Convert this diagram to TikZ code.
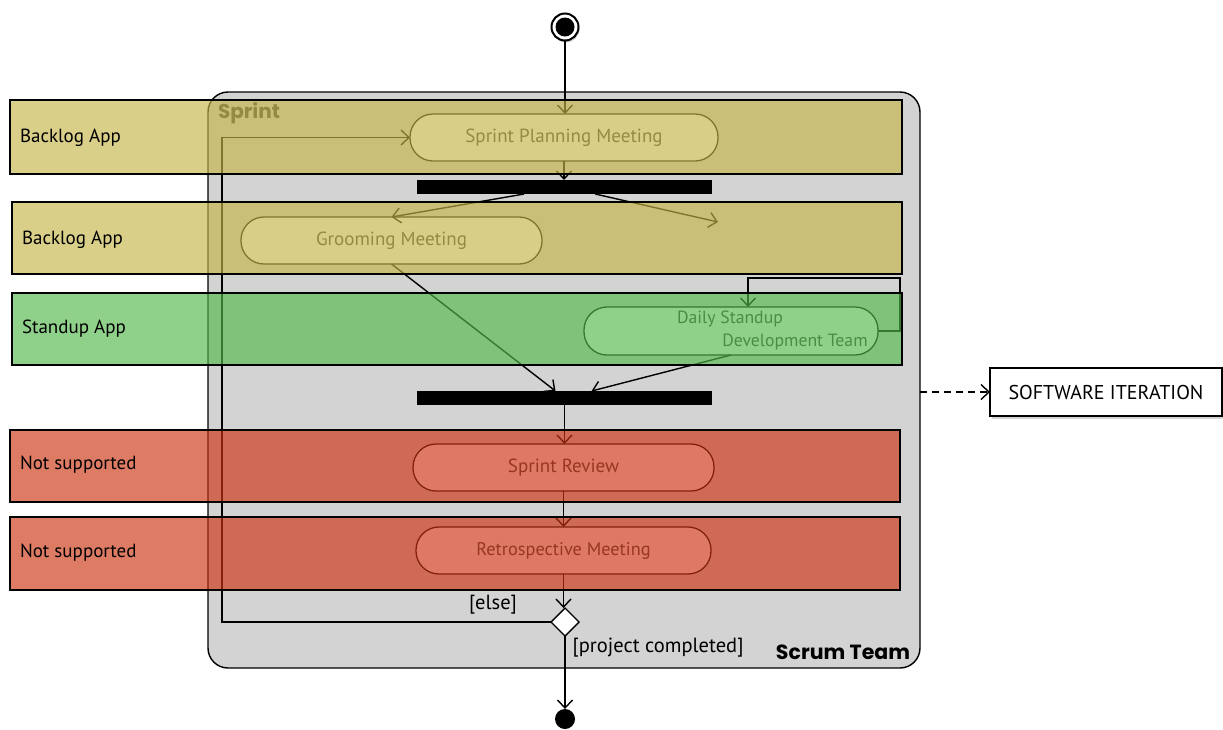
\documentclass[tikz,border=0pt]{standalone}
\usepackage{fontspec}
\setmainfont{PT Sans}
\newfontfamily\boldlbl{Poppins}
\usetikzlibrary{arrows.meta,shapes.geometric,shadows}
\definecolor{frameg}{HTML}{D3D3D3}
\definecolor{laney}{RGB}{197,181,72}
\definecolor{laneg}{RGB}{83,185,75}
\definecolor{laner}{RGB}{205,52,18}
\definecolor{acttext}{HTML}{3A3A3A}
\pgfdeclarelayer{bg}
\pgfdeclarelayer{fg}
\pgfsetlayers{bg,main,fg}
\begin{document}
\begin{tikzpicture}[x=1pt,y=-1pt,
  every node/.style={inner sep=0pt, outer sep=0pt},
  flow/.style={draw=black, line width=1.4pt, -{Straight Barb[length=8pt,width=15pt,line width=1.4pt]}},
  action/.style={draw=black, line width=1.3pt, fill=white, rounded corners=23pt, text=acttext, font=\fontsize{19}{22}\selectfont},
  bar/.style={fill=black, minimum width=295pt, minimum height=14pt},
  lane/.style={draw=black, line width=1.4pt, fill opacity=0.65},
  lanelabel/.style={anchor=west, font=\fontsize{19}{22}\selectfont},
  guard/.style={font=\fontsize{20.5}{24}\selectfont},
]
\useasboundingbox (0,0) rectangle (1223,729);

\begin{pgfonlayer}{bg}
\node[draw=black, line width=1.4pt, fill=frameg, rounded corners=20pt, minimum width=712pt, minimum height=576pt] (frame) at (564,380) {};
\end{pgfonlayer}

% start / end
\node[circle, draw=black, line width=2pt, fill=white, minimum size=27pt, drop shadow={opacity=0.35, shadow xshift=1pt, shadow yshift=-2pt}] (start) at (565,27) {};
\fill[black] (start.center) circle (9.5pt);
\node[circle, fill=black, minimum size=20pt] (final) at (565,719) {};

% actions
\node[action, minimum width=308pt, minimum height=47pt] (plan) at (564,137.5) {Sprint Planning Meeting};
\node[action, minimum width=301pt, minimum height=47pt] (groom) at (391.5,240.5) {Grooming Meeting};
\node[action, minimum width=294pt, minimum height=48pt] (daily) at (731,331) {};
\node[text=acttext, font=\fontsize{17.7}{20}\selectfont] (dailyname) at (730,319) {Daily Standup};
\node[text=acttext, font=\fontsize{17.7}{20}\selectfont] (dailyteam) at (795,342) {Development Team};
\node[action, minimum width=301pt, minimum height=47pt] (review) at (563.5,467.5) {Sprint Review};
\node[action, minimum width=295pt, minimum height=47pt, font=\fontsize{18.3}{21}\selectfont] (retro) at (563.5,550.5) {Retrospective Meeting};

% bars and decision
\node[bar] (fork) at (564.5,187) {};
\node[bar] (join) at (564.5,398) {};
\node[diamond, aspect=1, draw=black, line width=1.4pt, fill=white, minimum width=28pt, minimum height=28pt] (dec) at (565,622) {};

% free ends / bends
\coordinate (forkend) at (718,222);
\coordinate (loopc) at (222,622);
\coordinate (selfc) at (900,278);
\coordinate (selfx) at (748,278);

% connectors
\draw[flow] (start.south) -- (start.south |- plan.north);
\draw[flow] (plan.south) -- (plan.south |- fork.north);
\draw[flow] (fork) -- (groom.north);
\draw[flow] (fork) -- (forkend);
\draw[flow] (groom.south) -- (join);
\draw[flow] (daily.south) -- (join);
\draw[flow] (daily.east) -| (selfc) -- (selfx) -- (selfx |- daily.north);
\draw[flow] (join.south) -- (join.south |- review.north);
\draw[flow] (review.south) -- (review.south |- retro.north);
\draw[flow] (retro.south) -- (retro.south |- dec.north);
\draw[flow] (dec.south) -- (final.north);
\draw[flow] (dec.west) -- (loopc) |- (plan.west);

\node[text=acttext, font=\boldlbl\bfseries\fontsize{20}{23}\selectfont] (sprintlbl) at (249,113) {Sprint};

% lanes (translucent, on top)
\begin{pgfonlayer}{fg}
\node[lane, fill=laney, minimum width=892pt, minimum height=74pt] (lane1) at (456,137) {};
\node[lane, fill=laney, minimum width=890pt, minimum height=72pt] (lane2) at (457,238) {};
\node[lane, fill=laneg, minimum width=890pt, minimum height=72pt] (lane3) at (457,329) {};
\node[lane, fill=laner, minimum width=890pt, minimum height=72pt] (lane4) at (455,466) {};
\node[lane, fill=laner, minimum width=890pt, minimum height=73pt] (lane5) at (455,553.5) {};
\node[lanelabel] (l1) at (20,138) {Backlog App};
\node[lanelabel] (l2) at (22,240) {Backlog App};
\node[lanelabel] (l3) at (22,329) {Standup App};
\node[lanelabel] (l4) at (20,465) {Not supported};
\node[lanelabel] (l5) at (20,553) {Not supported};
\end{pgfonlayer}

% guards and frame label
\node[guard] (elselbl) at (493,605) {[else]};
\node[guard] (donelbl) at (658,648) {[project completed]};
\node[font=\boldlbl\bfseries\fontsize{20.5}{24}\selectfont] (teamlbl) at (843,652) {Scrum Team};

% external box
\node[draw=black, line width=1.4pt, fill=white, minimum width=232pt, minimum height=48pt, font=\fontsize{20}{24}\selectfont, drop shadow={opacity=0.35, shadow xshift=2pt, shadow yshift=-3pt}] (sw) at (1106,392) {SOFTWARE ITERATION};
\draw[flow, dash pattern=on 7pt off 5pt] (frame.east |- sw.west) -- (sw.west);
\end{tikzpicture}
\end{document}
